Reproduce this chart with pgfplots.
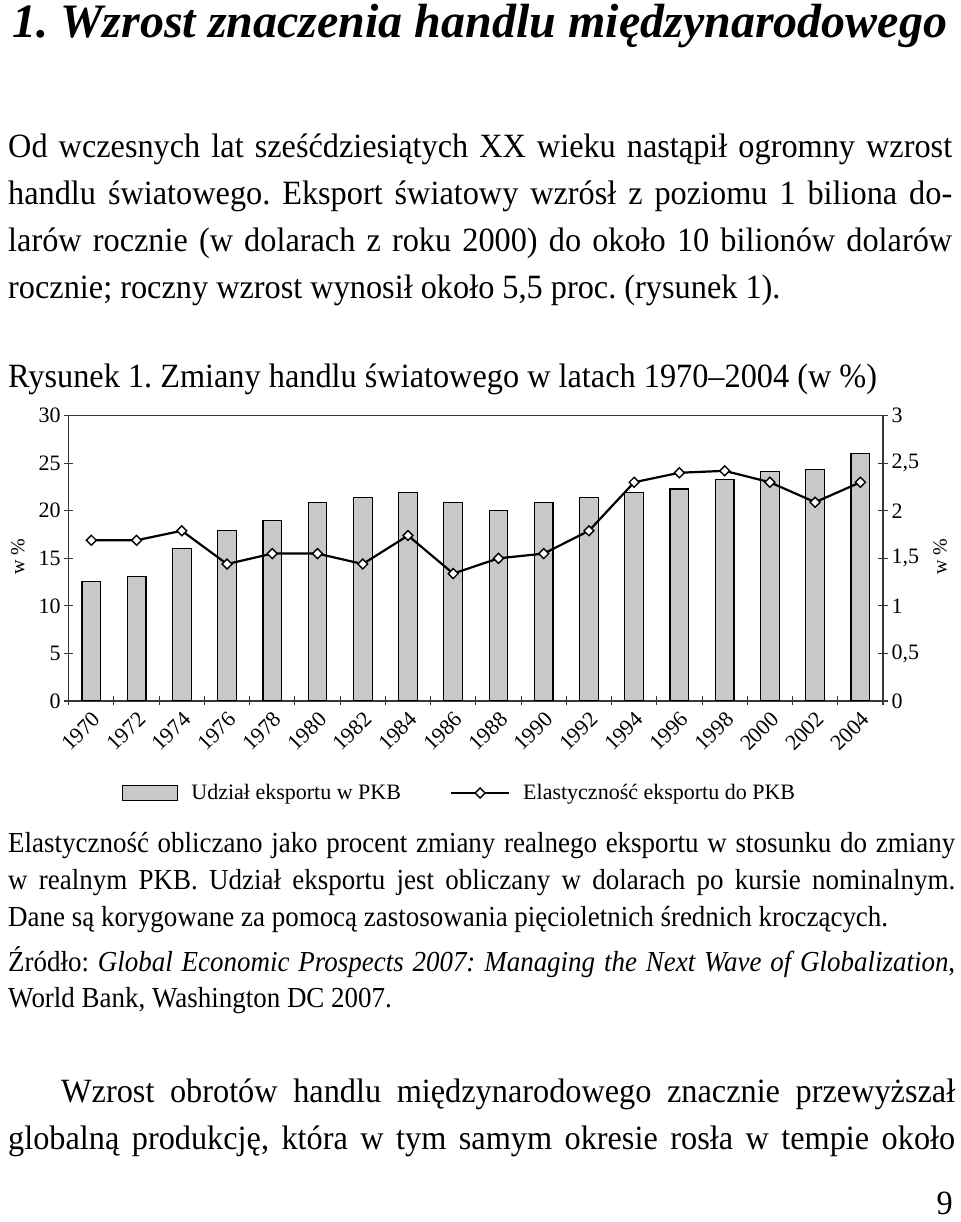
\documentclass[border=0pt]{standalone}
\usepackage{fontspec}
\usepackage{pgfplots}
\pgfplotsset{compat=1.18}
\setmainfont{Liberation Serif}
\newfontfamily\bodyf{Liberation Serif}[FakeStretch=0.95]
\newfontfamily\notef{Liberation Serif}[FakeStretch=0.93]
\definecolor{barfill}{RGB}{199,200,201}
\definecolor{axisgray}{RGB}{55,55,55}
\newcommand{\chartfont}{\fontsize{22}{26}\selectfont}
\newcommand{\bodyfont}{\bodyf\fontsize{34}{40}\selectfont}
\newcommand{\notefont}{\notef\fontsize{29}{34}\selectfont}
\newcommand{\jline}[2]{\makebox[#1][s]{#2}}
\frenchspacing

\begin{document}
\begin{tikzpicture}
\path[use as bounding box] (0pt,0pt) rectangle (960pt,1222pt);

% page text, coordinates in pixels from the top left corner
\begin{scope}[x=1pt,y=-1pt,yshift=1222pt,every node/.style={inner sep=0pt,anchor=base west}]
\node at (12,38) {\fontsize{48}{54}\selectfont\bfseries\itshape 1. Wzrost znaczenia handlu międzynarodowego};
\node at (8,158) {\bodyfont\jline{944pt}{Od wczesnych lat sześćdziesiątych XX wieku nastąpił ogromny wzrost}};
\node at (8,205) {\bodyfont\jline{944pt}{handlu światowego. Eksport światowy wzrósł z poziomu 1 biliona do-}};
\node at (8,252) {\bodyfont\jline{944pt}{larów rocznie (w dolarach z roku 2000) do około 10 bilionów dolarów}};
\node at (8,299) {\bodyfont rocznie; roczny wzrost wynosił około 5,5 proc. (rysunek 1).};
\node at (8,388) {\bodyfont Rysunek 1. Zmiany handlu światowego w latach 1970–2004 (w \%)};

\node at (8,853) {\notefont\jline{947pt}{Elastyczność obliczano jako procent zmiany realnego eksportu w stosunku do zmiany}};
\node at (8,890) {\notefont\jline{947pt}{w realnym PKB. Udział eksportu jest obliczany w dolarach po kursie nominalnym.}};
\node at (8,927) {\notefont Dane są korygowane za pomocą zastosowania pięcioletnich średnich kroczących.};
\node at (8,972) {\notefont\jline{947pt}{Źródło: \textit{Global Economic Prospects 2007: Managing the Next Wave of Globalization},}};
\node at (8,1008) {\notefont World Bank, Washington DC 2007.};

\node at (61,1103) {\bodyfont\jline{894pt}{Wzrost obrotów handlu międzynarodowego znacznie przewyższał}};
\node at (8,1150) {\bodyfont\jline{947pt}{globalną produkcję, która w tym samym okresie rosła w tempie około}};
\node[anchor=base east] at (953,1215) {\bodyfont 9};
\end{scope}

% bars, left scale
\begin{axis}[
    at={(68.7pt,521pt)}, anchor=south west,
    scale only axis, width=814.3pt, height=285.3pt,
    xmin=-0.5, xmax=17.5, ymin=0, ymax=30,
    axis line style={axisgray, line width=1.1pt},
    tick align=center, major tick length=9pt, minor tick length=9pt,
    xtick={0,...,17},
    xticklabels={1970,1972,1974,1976,1978,1980,1982,1984,1986,1988,1990,1992,1994,1996,1998,2000,2002,2004},
    major x tick style={draw=none},
    minor xtick={-0.5,0.5,...,17.5},
    minor x tick style={axisgray, line width=1.1pt},
    xtick pos=bottom, ytick pos=left,
    ytick={0,5,...,30}, yticklabels={0,5,10,15,20,25,30},
    ytick style={axisgray, line width=1.1pt},
    tick label style={font=\chartfont},
    xticklabel style={rotate=45, anchor=north east},
    ylabel={w \%},
    ylabel style={font=\fontsize{20}{24}\selectfont, at={(axis description cs:-0.0623,0.505)}, anchor=center},
]
\addplot[ybar, bar width=18.7pt, fill=barfill, draw=black, line width=1.2pt] coordinates {
  (0,12.6) (1,13.1) (2,16.0) (3,17.9) (4,19.0) (5,20.9) (6,21.4) (7,21.9) (8,20.9)
  (9,20.0) (10,20.9) (11,21.4) (12,21.9) (13,22.3) (14,23.3) (15,24.1) (16,24.3) (17,26.0)
};
\end{axis}

% elasticity line, right scale
\begin{axis}[
    at={(68.7pt,521pt)}, anchor=south west,
    scale only axis, width=814.3pt, height=285.3pt,
    xmin=-0.5, xmax=17.5, ymin=0, ymax=3,
    axis x line=none, axis y line*=right,
    axis line style={axisgray, line width=1.1pt},
    tick align=center, major tick length=10pt,
    ytick={0,0.5,...,3}, yticklabels={0,{0,5},1,{1,5},2,{2,5},3},
    ytick style={axisgray, line width=1.1pt},
    tick label style={font=\chartfont},
    ylabel={w \%},
    ylabel style={font=\fontsize{20}{24}\selectfont, at={(axis description cs:1.07,0.505)}, anchor=center},
    legend columns=2,
    legend cell align=left,
    legend style={at={(0.0618,-0.3225)}, anchor=west, draw=none, fill=none,
      font=\chartfont,
      /tikz/every odd column/.append style={column sep=11pt},
      /tikz/every even column/.append style={column sep=47pt}},
]
\addlegendimage{legend image code/.code={\draw[fill=barfill,draw=black,line width=1.2pt] (0pt,-7.5pt) rectangle (55pt,7.5pt);}}
\addlegendentry{Udział eksportu w PKB}
\addplot[black, line width=2.2pt, mark=square*, mark size=3.5pt,
  mark options={fill=white, line width=1.4pt, rotate=45},
  legend image code/.code={\draw[black, line width=2.2pt, mark=square*, mark size=3.5pt,
    mark options={fill=white, line width=1.4pt, rotate=45}, mark repeat=2, mark phase=2]
    plot coordinates {(0pt,0pt) (29pt,0pt) (58pt,0pt)};}] coordinates {
  (0,1.69) (1,1.69) (2,1.79) (3,1.44) (4,1.55) (5,1.55) (6,1.44) (7,1.74) (8,1.34)
  (9,1.50) (10,1.55) (11,1.79) (12,2.30) (13,2.40) (14,2.42) (15,2.30) (16,2.09) (17,2.30)
};
\addlegendentry{Elastyczność eksportu do PKB}
\end{axis}
\end{tikzpicture}
\end{document}
